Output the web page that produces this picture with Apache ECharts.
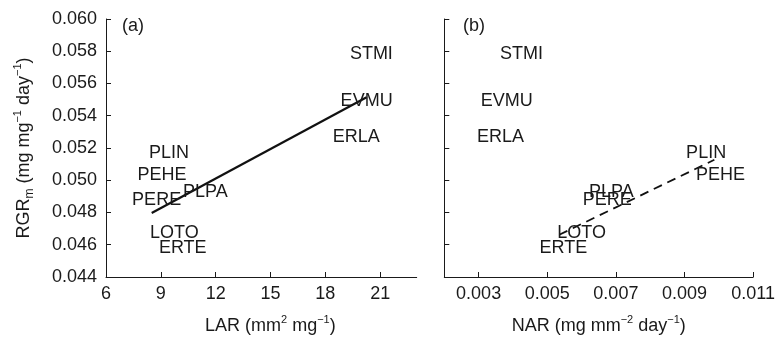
<!DOCTYPE html>
<html>
<head>
<meta charset="utf-8">
<script src="https://cdn.jsdelivr.net/npm/echarts@6/dist/echarts.min.js"></script>
<style>html,body{margin:0;padding:0;background:#fff}#c{width:778px;height:340px}</style>
</head>
<body>
<div id="c"></div>
<script>
// Data
var species = ['STMI', 'EVMU', 'ERLA', 'PLIN', 'PEHE', 'PERE', 'PLPA', 'LOTO', 'ERTE'];
var lar = [20.52, 20.26, 19.69, 9.45, 9.06, 8.77, 11.44, 9.74, 10.20];
var nar = [0.00425, 0.00382, 0.00364, 0.00963, 0.01005, 0.00675, 0.00687, 0.00600, 0.00547];
var rgr = [0.0578, 0.0549, 0.0527, 0.0517, 0.0503, 0.0488, 0.0493, 0.0467, 0.0458];
// Regression line endpoints
var fitA_x = [8.50, 20.26];
var fitA_y = [0.04797, 0.05515];
var fitB_x = [0.00535, 0.00987];
var fitB_y = [0.04662, 0.05127];
// Tick labels
var larTicks = [6, 9, 12, 15, 18, 21];
var narTicks = [0.003, 0.005, 0.007, 0.009, 0.011];

var FONT = '"Liberation Sans", Arial, Helvetica, sans-serif';
var TXT = '#1a1a1a';
var AX = '#1a1a1a';

function pts(xs) {
  return species.map(function (s, i) { return { name: s, value: [xs[i], rgr[i]] }; });
}
function line(xs, ys) {
  return xs.map(function (x, i) { return [x, ys[i]]; });
}
var rich = {
  b: { fontSize: 18, color: TXT, fontFamily: FONT, lineHeight: 24 },
  sup: { fontSize: 11, color: TXT, fontFamily: FONT, verticalAlign: 'top', lineHeight: 13 },
  sub: { fontSize: 12, color: TXT, fontFamily: FONT, verticalAlign: 'bottom', lineHeight: 11 }
};
var axisLineStyle = { show: true, lineStyle: { color: AX, width: 1 } };
var tickStyle = { show: true, inside: true, length: 5, lineStyle: { color: AX, width: 1 } };
var labelStyle = { color: TXT, fontSize: 18, fontFamily: FONT };
var ptLabel = {
  show: true, position: 'inside', formatter: '{b}', color: TXT, fontSize: 18, fontFamily: FONT,
  textBorderWidth: 0, opacity: 1
};

var chart = echarts.init(document.getElementById('c'), null, { renderer: 'canvas' });
chart.setOption({
  animation: false,
  backgroundColor: '#fff',
  grid: [
    { left: 106, top: 19, width: 310.7, height: 258.3 },
    { left: 444.3, top: 19, width: 310.7, height: 258.3 }
  ],
  xAxis: [
    {
      gridIndex: 0, type: 'value', min: 6, max: 23,
      axisLine: axisLineStyle,
      axisTick: Object.assign({ customValues: larTicks }, tickStyle),
      axisLabel: Object.assign({ customValues: larTicks, margin: 8 }, labelStyle),
      splitLine: { show: false },
      name: '{b|LAR (mm}{sup|2}{b| mg}{sup|−1}{b|)}',
      nameLocation: 'middle', nameGap: 37,
      nameTextStyle: { rich: rich, padding: [0, 0, 0, 18] }
    },
    {
      gridIndex: 1, type: 'value', min: 0.002, max: 0.011,
      axisLine: axisLineStyle,
      axisTick: Object.assign({ customValues: narTicks }, tickStyle),
      axisLabel: Object.assign({ customValues: narTicks, margin: 8, formatter: function (v) { return v.toFixed(3); } }, labelStyle),
      splitLine: { show: false },
      name: '{b|NAR (mg mm}{sup|−2}{b| day}{sup|−1}{b|)}',
      nameLocation: 'middle', nameGap: 37,
      nameTextStyle: { rich: rich }
    }
  ],
  yAxis: [
    {
      gridIndex: 0, type: 'value', min: 0.044, max: 0.060, interval: 0.002,
      axisLine: axisLineStyle,
      axisTick: tickStyle,
      axisLabel: Object.assign({ margin: 9, formatter: function (v) { return v.toFixed(3); } }, labelStyle),
      splitLine: { show: false },
      name: '{b|RGR}{sub|m}{b| (mg mg}{sup|−1}{b| day}{sup|−1}{b|)}',
      nameLocation: 'middle', nameGap: 70, nameRotate: 90,
      nameTextStyle: { rich: rich }
    },
    {
      gridIndex: 1, type: 'value', min: 0.044, max: 0.060, interval: 0.002,
      axisLine: axisLineStyle,
      axisTick: tickStyle,
      axisLabel: { show: false },
      splitLine: { show: false }
    }
  ],
  graphic: [
    { type: 'text', left: 122, top: 17, style: { text: '(a)', fontSize: 18, fontFamily: FONT, fill: TXT } },
    { type: 'text', left: 463, top: 17, style: { text: '(b)', fontSize: 18, fontFamily: FONT, fill: TXT } }
  ],
  series: [
    {
      type: 'line', xAxisIndex: 0, yAxisIndex: 0, data: line(fitA_x, fitA_y),
      symbol: 'none', lineStyle: { color: '#111', width: 2.2 }, silent: true, z: 1
    },
    {
      type: 'line', xAxisIndex: 1, yAxisIndex: 1, data: line(fitB_x, fitB_y),
      symbol: 'none', lineStyle: { color: '#111', width: 1.8, type: [9, 6] }, silent: true, z: 1
    },
    {
      type: 'scatter', xAxisIndex: 0, yAxisIndex: 0, data: pts(lar),
      symbolSize: 0, itemStyle: { color: TXT, opacity: 1 }, z: 3, label: ptLabel
    },
    {
      type: 'scatter', xAxisIndex: 1, yAxisIndex: 1, data: pts(nar),
      symbolSize: 0, itemStyle: { color: TXT, opacity: 1 }, z: 3, label: ptLabel
    }
  ]
});
</script>
</body>
</html>
